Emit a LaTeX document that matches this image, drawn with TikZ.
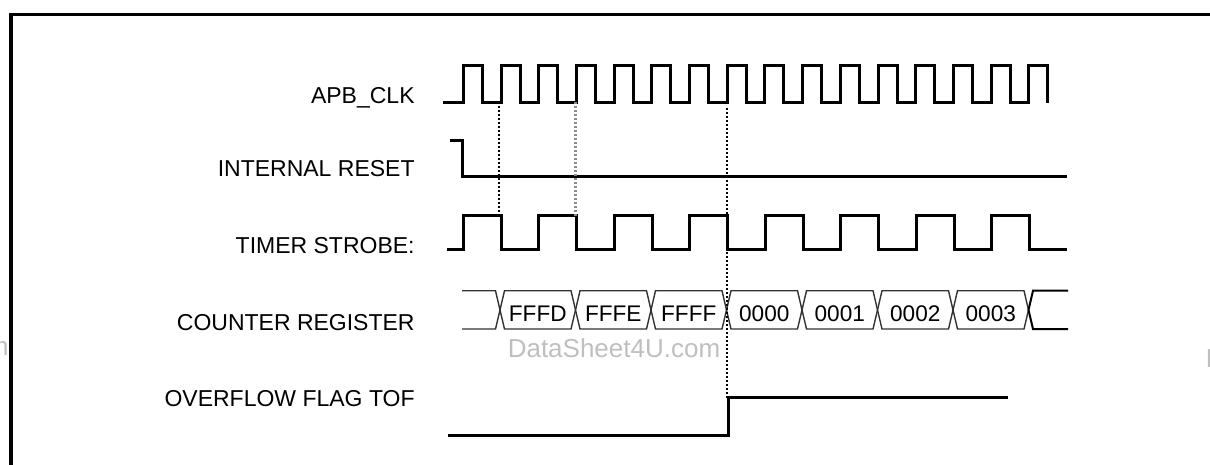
\documentclass[tikz,border=0pt]{standalone}
\usepackage{fontspec}
\setmainfont{Liberation Sans}
\usepackage{tikz}
\usetikzlibrary{positioning,calc}
\tikzset{
  signame/.style = {font=\fontsize{11.5}{13}\selectfont, inner sep=0pt},
  wave/.style    = {line width=1.5pt, line join=miter},
  busline/.style = {line width=0.7pt, draw=black!80},
  busval/.style  = {font=\fontsize{11.3}{13}\selectfont, inner sep=0pt},
  guide/.style   = {line width=1pt, dash pattern=on 1.2pt off 0.8pt},
  wmark/.style   = {font=\fontsize{13}{15}\selectfont, text=black!25, inner sep=0pt},
}
\newcommand{\clkper}{37.7}
\newcommand{\stbper}{75.5}

\begin{document}
\begin{tikzpicture}[x=0.5pt, y=-0.5pt]
\useasboundingbox (0,0) rectangle (1210,465);
\clip (0,0) rectangle (1210,465);
% ---- frame and watermark ----
\draw[line width=1.9pt] (11.3,500) |- (1250,14.5);
\node[wmark, anchor=base] (wm) at (614,357) {DataSheet4U.com};
\node[wmark, anchor=base east] (wml) at (9,355) {DataSheet4U.com};
\node[wmark, anchor=base west] (wmr) at (1205.5,367) {DataSheet4U.com};

% ---- signal names ----
\node[signame, anchor=base east] (lclk) at (415,103.3) {APB\_CLK};
\node[signame, anchor=base east] (lrst) at (415,176.7) {INTERNAL RESET};
\node[signame, anchor=base east] (lstb) at (415,253) {TIMER STROBE:};
\node[signame, anchor=base east] (lcnt) at (415,330) {COUNTER REGISTER};
\node[signame, anchor=base east] (ltof) at (415,406.7) {OVERFLOW FLAG TOF};

% ---- waveforms ----
\draw[wave] (443,102.7) \foreach \k in {0,...,15}{
  -| ({463.3+\clkper*\k},65.7) -| ({482.3+\clkper*\k},102.7) };
\draw[wave] (450,140.7) -| (462.3,176.7) -- (1067,176.7);
\draw[wave] (447,249.3) \foreach \k in {0,...,7}{
  -| ({463.3+\stbper*\k},215.7) -| ({501+\stbper*\k},249.3) } -- (1067,249.3);
\draw[wave] (448,435.7) -| (728.3,397.7) -- (1007.7,397.7);

% ---- counter register ----
\draw[busline] (462,290.7) -- (495.5,290.7) -- (500,310) -- (495.5,329) -- (462,329);
\foreach \k in {0,...,6}{
  \draw[busline] ({500+\stbper*\k},310) -- ({504.5+\stbper*\k},290.7)
    -- ({571+\stbper*\k},290.7) -- ({575.5+\stbper*\k},310)
    -- ({571+\stbper*\k},329) -- ({504.5+\stbper*\k},329) -- cycle;
}
\draw[busline, draw=black, line width=1pt] (1068,290.7) -- (1033,290.7) -- (1028.5,310) -- (1033,329) -- (1068,329);
\foreach \v [count=\i from 0] in {FFFD,FFFE,FFFF,0000,0001,0002,0003}
  \node[busval, anchor=base] (cnt\v) at ({537.75+\stbper*\i},321.7) {\v};

% ---- timing guides ----
\draw[guide] (499.3,102) -- (499.3,215.7);
\draw[guide, draw=black!45, line width=1.2pt] (575.3,102) -- (575.3,215.7);
\draw[guide] (727.3,108) -- (727.3,397.7);
\end{tikzpicture}
\end{document}
